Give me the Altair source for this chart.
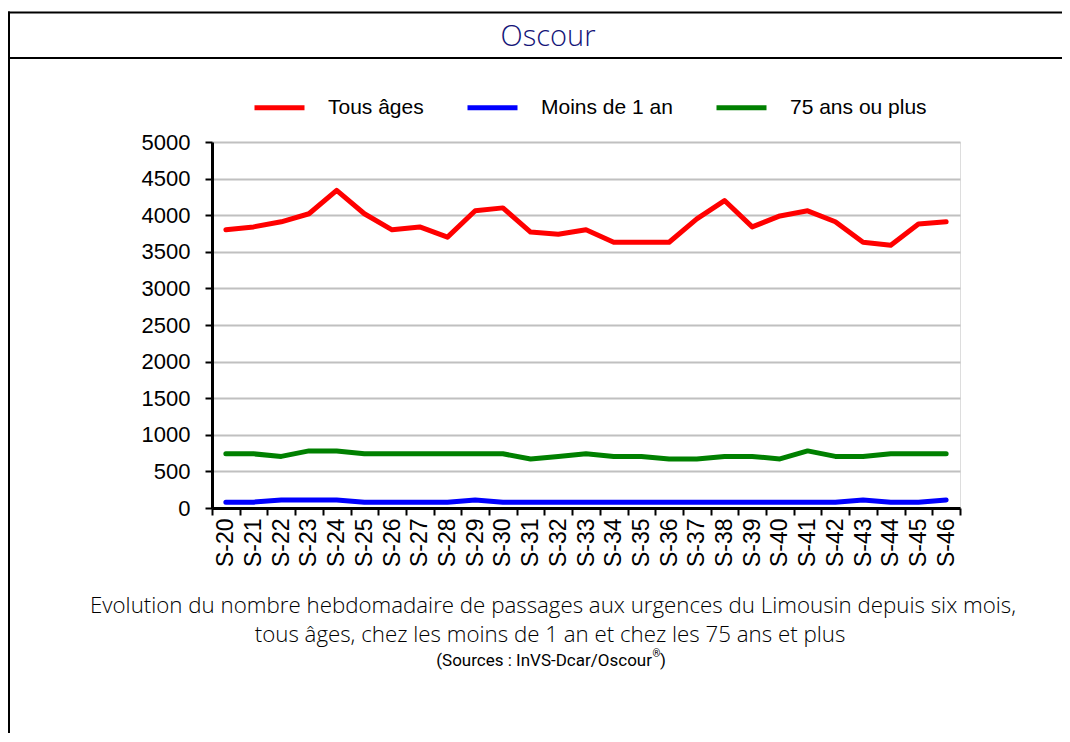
import altair as alt
import pandas as pd

weeks = ["S-20", "S-21", "S-22", "S-23", "S-24", "S-25", "S-26", "S-27", "S-28",
         "S-29", "S-30", "S-31", "S-32", "S-33", "S-34", "S-35", "S-36", "S-37",
         "S-38", "S-39", "S-40", "S-41", "S-42", "S-43", "S-44", "S-45", "S-46"]
tous_ages = [3800, 3840, 3910, 4020, 4340, 4020, 3800, 3840, 3700, 4060, 4100, 3770, 3740, 3800,
             3630, 3630, 3630, 3950, 4200, 3840, 3990, 4060, 3910, 3630, 3590, 3880, 3910]
moins_1_an = [80, 80, 110, 110, 110, 80, 80, 80, 80, 110, 80, 80, 80, 80,
              80, 80, 80, 80, 80, 80, 80, 80, 80, 110, 80, 80, 110]
ans_75_plus = [740, 740, 705, 780, 780, 740, 740, 740, 740, 740, 740, 670, 705, 740,
               705, 705, 670, 670, 705, 705, 670, 780, 705, 705, 740, 740, 740]
series_names = ["Tous âges", "Moins de 1 an", "75 ans ou plus"]
series_colors = ["#ff0000", "#0000ff", "#008000"]
y_ticks = [0, 500, 1000, 1500, 2000, 2500, 3000, 3500, 4000, 4500, 5000]

rows = []
for name, vals in zip(series_names, [tous_ages, moins_1_an, ans_75_plus]):
    for w, v in zip(weeks, vals):
        rows.append({"semaine": w, "serie": name, "valeur": v})
df = pd.DataFrame(rows)
one = pd.DataFrame({"k": [0]})

W, H = 748, 366

lines = alt.Chart(df).mark_line(strokeWidth=5, strokeCap="round", strokeJoin="round").encode(
    x=alt.X("semaine:N", sort=weeks, bandPosition=0.5,
            scale=alt.Scale(type="band", paddingInner=0, paddingOuter=0),
            axis=alt.Axis(title=None, labelAngle=-90, labelFont="Liberation Sans", labelFontSize=23,
                          labelColor="black", labelPadding=3, tickBand="extent", tickColor="black",
                          tickWidth=2, tickSize=7, domainColor="black", domainWidth=3, grid=False)),
    y=alt.Y("valeur:Q", scale=alt.Scale(domain=[0, 5000], nice=False),
            axis=alt.Axis(title=None, values=y_ticks, format="d", labelFont="Liberation Sans",
                          labelFontSize=22, labelColor="black", labelPadding=15, tickColor="black",
                          tickWidth=2, tickSize=7, domainColor="black", domainWidth=3, grid=True,
                          gridColor="#c0c0c0", gridWidth=2)),
    color=alt.Color("serie:N", sort=series_names,
                    scale=alt.Scale(domain=series_names, range=series_colors),
                    legend=alt.Legend(title=None, orient="none", legendX=40, legendY=-62,
                                      direction="horizontal", symbolType="stroke", symbolSize=2500,
                                      symbolStrokeWidth=5, labelFont="Liberation Sans",
                                      labelFontSize=21, labelColor="black", labelOffset=21,
                                      columnPadding=33)),
)

frame_top = alt.Chart(one).mark_rect(color="black").encode(
    x=alt.value(-204), x2=alt.value(900), y=alt.value(-130.5), y2=alt.value(-128.5))
frame_mid = alt.Chart(one).mark_rect(color="black").encode(
    x=alt.value(-204), x2=alt.value(900), y=alt.value(-85), y2=alt.value(-83))
frame_left = alt.Chart(one).mark_rect(color="black").encode(
    x=alt.value(-204), x2=alt.value(-202), y=alt.value(-130.5), y2=alt.value(700))

header = alt.Chart(one).mark_text(text="Oscour", font="Open Sans", fontWeight=300, fontSize=29,
                                  color="#141478", align="center", baseline="middle").encode(
    x=alt.value(336), y=alt.value(-105))

cap1 = alt.Chart(one).mark_text(
    text="Evolution du nombre hebdomadaire de passages aux urgences du Limousin depuis six mois,",
    font="Open Sans", fontWeight=300, fontSize=22.3, color="#000000", align="center",
    baseline="middle").encode(x=alt.value(341), y=alt.value(464))
cap2 = alt.Chart(one).mark_text(
    text="tous âges, chez les moins de 1 an et chez les 75 ans et plus",
    font="Open Sans", fontWeight=300, fontSize=22.3, color="#000000", align="center",
    baseline="middle").encode(x=alt.value(338), y=alt.value(493))
src = alt.Chart(one).mark_text(
    text="(Sources : InVS-Dcar/Oscour", font="Roboto", fontSize=17,
    color="black", align="right", baseline="middle").encode(x=alt.value(440), y=alt.value(519))
src_r = alt.Chart(one).mark_text(
    text="®", font="Roboto", fontSize=10,
    color="black", align="left", baseline="middle").encode(x=alt.value(440.5), y=alt.value(512))
src_p = alt.Chart(one).mark_text(
    text=")", font="Roboto", fontSize=17,
    color="black", align="left", baseline="middle").encode(x=alt.value(448), y=alt.value(519))

chart = alt.layer(frame_top, frame_mid, frame_left, header, cap1, cap2, src, src_r, src_p, lines).properties(
    width=W, height=H,
    autosize=alt.AutoSizeParams(type="none"),
    padding={"left": 204, "top": 134, "right": 102, "bottom": 225},
).configure_view(stroke=None).configure(background="white")

chart.save("out.html", embed_options={"renderer": "svg", "actions": False})
